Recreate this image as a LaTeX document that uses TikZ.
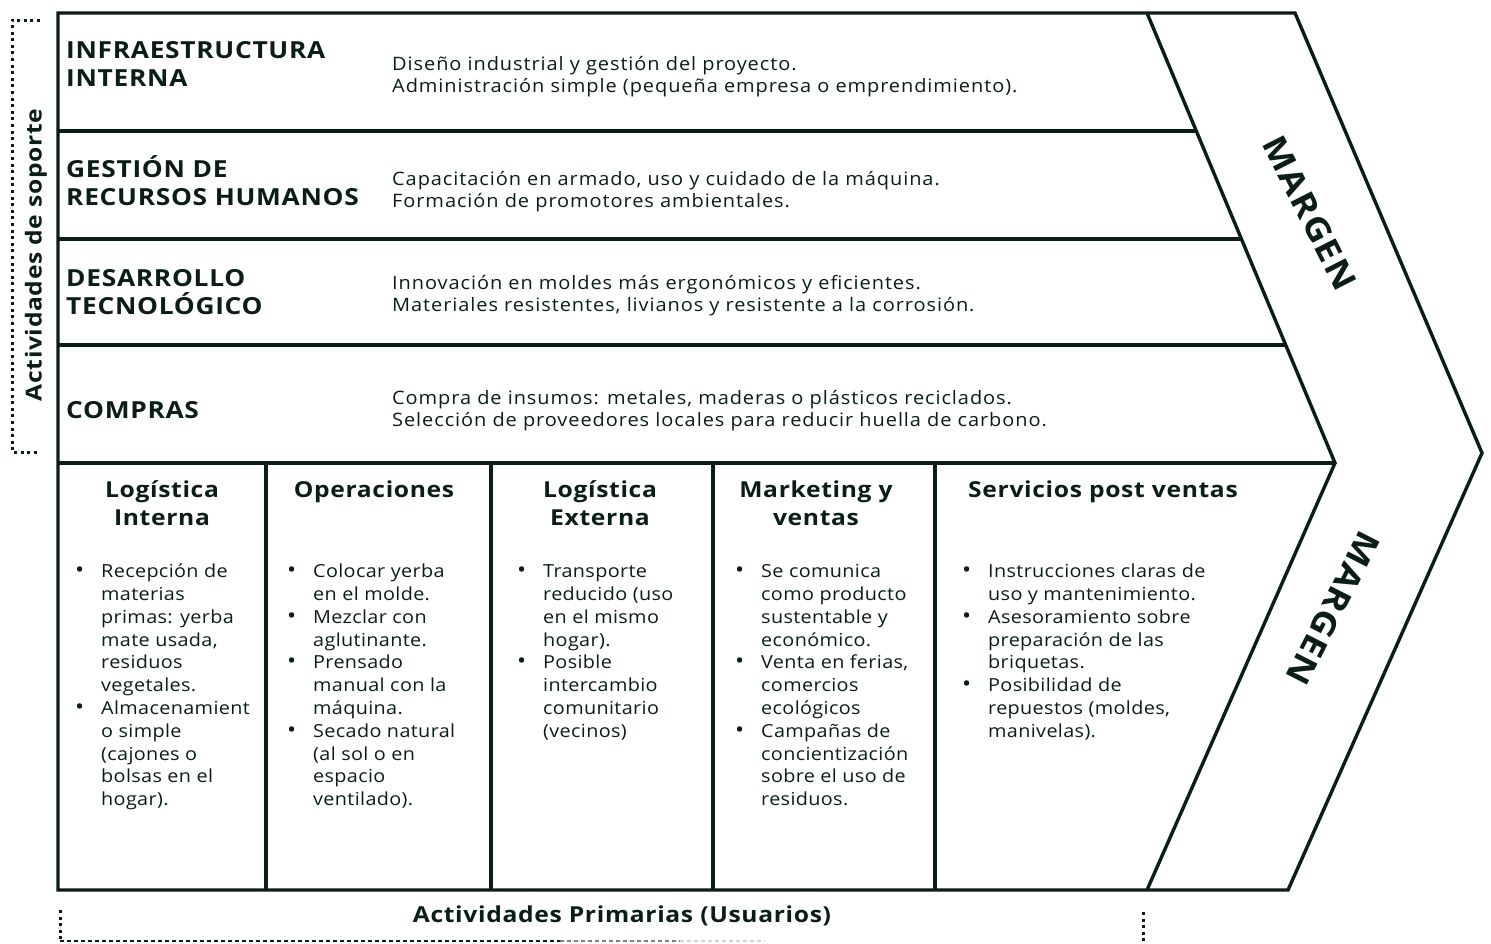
\documentclass[tikz,border=0pt]{standalone}
\usepackage{fontspec}
\setmainfont[FakeStretch=1.1,LetterSpace=2]{Open Sans}
\newfontfamily\descfont[FakeStretch=1.08,LetterSpace=5]{Open Sans}
\newfontfamily\headfont[FakeStretch=1.12,LetterSpace=3]{Open Sans}
\definecolor{ink}{HTML}{0B1D18}
\newcommand\bulmark{\llap{\makebox[22pt][l]{\kern-4pt{\fontsize{22}{0}\selectfont\textbullet}}}}
\newcommand\topstrut[1]{\rule{0pt}{#1}}
\begin{document}
\begin{tikzpicture}[x=1pt,y=-1pt,
  frame/.style={draw=ink, line width=3.4pt, line join=miter},
  dotline/.style={draw=ink, line width=3pt, dash pattern=on 3pt off 3.6pt},
  thindash/.style={line width=1.5pt, dash pattern=on 4pt off 3pt},
  supphead/.style={anchor=north west, align=left, inner sep=0pt, text=ink,
    font=\headfont\bfseries\fontsize{23.5}{28.5}\selectfont},
  suppdesc/.style={anchor=north west, align=left, inner sep=0pt, text=ink,
    font=\descfont\fontsize{18.5}{22.7}\selectfont},
  primhead/.style={anchor=north, align=center, inner sep=0pt, text=ink,
    font=\headfont\bfseries\fontsize{22}{28}\selectfont},
  primbody/.style={anchor=north west, align=left, inner sep=0pt, text=ink,
    font=\fontsize{18}{22.8}\selectfont},
  margen/.style={inner sep=0pt, text=ink, font=\headfont\bfseries\fontsize{33}{33}\selectfont},
  caption/.style={inner sep=0pt, text=ink, font=\headfont\bfseries\fontsize{22}{22}\selectfont}]
\useasboundingbox (0,0) rectangle (1491,943);
\fill[white] (0,0) rectangle (1491,943);

% chevron geometry
\coordinate (TL) at (58,13);
\coordinate (TR) at (1295,13);
\coordinate (Tip) at (1482,453);
\coordinate (BR) at (1288,890);
\coordinate (BL) at (58,890);
\coordinate (IT) at (1147,13);
\coordinate (IM) at (1335,463);
\coordinate (IB) at (1147,890);

\draw[frame] (TL) -- (TR) -- (Tip) -- (BR) -- (BL) -- cycle;
\draw[frame] (IT) -- (IM) -- (IB);

% support rows
\coordinate (R1L) at (58,131);  \coordinate (R1R) at (1196.3,131);
\coordinate (R2L) at (58,239);  \coordinate (R2R) at (1241.4,239);
\coordinate (R3L) at (58,345);  \coordinate (R3R) at (1285.7,345);
\coordinate (R4L) at (58,463);
\draw[frame] (R1L) -- (R1R);
\draw[frame] (R2L) -- (R2R);
\draw[frame] (R3L) -- (R3R);
\draw[frame] (R4L) -- (IM);

% primary columns
\foreach \cx in {266,491,713,935}{
  \draw[frame] (\cx,463) -- (\cx,890);
}

% support headings
\node[supphead] (h1) at (66,33) {\topstrut{25pt}INFRAESTRUCTURA\\INTERNA};
\node[supphead] (h2) at (66,152) {\topstrut{25pt}GESTIÓN DE\\RECURSOS HUMANOS};
\node[supphead] (h3) at (66,261) {\topstrut{25pt}DESARROLLO\\TECNOLÓGICO};
\node[supphead] (h4) at (66,393) {\topstrut{25pt}COMPRAS};

% support descriptions
\node[suppdesc] (d1) at (392,50) {\topstrut{20pt}Diseño industrial y gestión del proyecto.\\Administración simple (pequeña empresa o emprendimiento).};
\node[suppdesc] (d2) at (392,165) {\topstrut{20pt}Capacitación en armado, uso y cuidado de la máquina.\\Formación de promotores ambientales.};
\node[suppdesc] (d3) at (392,269) {\topstrut{20pt}Innovación en moldes más ergonómicos y eficientes.\\Materiales resistentes, livianos y resistente a la corrosión.};
\node[suppdesc] (d4) at (392,384) {\topstrut{20pt}Compra de insumos: metales, maderas o plásticos reciclados.\\Selección de proveedores locales para reducir huella de carbono.};

% primary headings
\node[primhead] (p1) at (162,472) {\topstrut{25pt}Logística\\Interna};
\node[primhead] (p2) at (374,472) {\topstrut{25pt}Operaciones};
\node[primhead] (p3) at (600,472) {\topstrut{25pt}Logística\\Externa};
\node[primhead] (p4) at (816,472) {\topstrut{25pt}Marketing y\\ventas};
\node[primhead] (p5) at (1103,472) {\topstrut{25pt}Servicios post ventas};

% primary bodies
\node[primbody] (b1) at (101,557.5) {\topstrut{20pt}\bulmark Recepción de\\materias\\primas: yerba\\mate usada,\\residuos\\vegetales.\\\bulmark Almacenamient\\o simple\\(cajones o\\bolsas en el\\hogar).};
\node[primbody] (b2) at (313,557.5) {\topstrut{20pt}\bulmark Colocar yerba\\en el molde.\\\bulmark Mezclar con\\aglutinante.\\\bulmark Prensado\\manual con la\\máquina.\\\bulmark Secado natural\\(al sol o en\\espacio\\ventilado).};
\node[primbody] (b3) at (543,557.5) {\topstrut{20pt}\bulmark Transporte\\reducido (uso\\en el mismo\\hogar).\\\bulmark Posible\\intercambio\\comunitario\\(vecinos)};
\node[primbody] (b4) at (761,557.5) {\topstrut{20pt}\bulmark Se comunica\\como producto\\sustentable y\\económico.\\\bulmark Venta en ferias,\\comercios\\ecológicos\\\bulmark Campañas de\\concientización\\sobre el uso de\\residuos.};
\node[primbody] (b5) at (988,557.5) {\topstrut{20pt}\bulmark Instrucciones claras de\\uso y mantenimiento.\\\bulmark Asesoramiento sobre\\preparación de las\\briquetas.\\\bulmark Posibilidad de\\repuestos (moldes,\\manivelas).};

% margin labels
\node[margen, rotate=-63] (m1) at (1310,213) {MARGEN};
\node[margen, rotate=-117] (m2) at (1333,608) {MARGEN};

% left bracket: support activities
\coordinate (LBt) at (40,20);
\coordinate (LBtc) at (12,20);
\coordinate (LBbc) at (12,452);
\coordinate (LBb) at (40,452);
\draw[dotline] (LBt) -- (LBtc) -- (LBbc) -- (LBb);
\node[caption, rotate=90] (sa) at (36,255) {Actividades de soporte};

% bottom bracket: primary activities
\coordinate (BBl) at (60,910);
\coordinate (BBlc) at (60,941);
\coordinate (BBm) at (560,941);
\coordinate (BBn) at (680,941);
\coordinate (BBe) at (765,941);
\coordinate (BBr) at (1143,912);
\coordinate (BBrc) at (1143,943);
\draw[dotline] (BBl) -- (BBlc);
\draw[thindash, draw=ink] (BBlc) -- (BBm);
\draw[thindash, draw=ink!55] (BBm) -- (BBn);
\draw[thindash, draw=ink!20] (BBn) -- (BBe);
\draw[dotline] (BBr) -- (BBrc);
\node[caption] (pa) at (622,916) {Actividades Primarias (Usuarios)};
\end{tikzpicture}
\end{document}
